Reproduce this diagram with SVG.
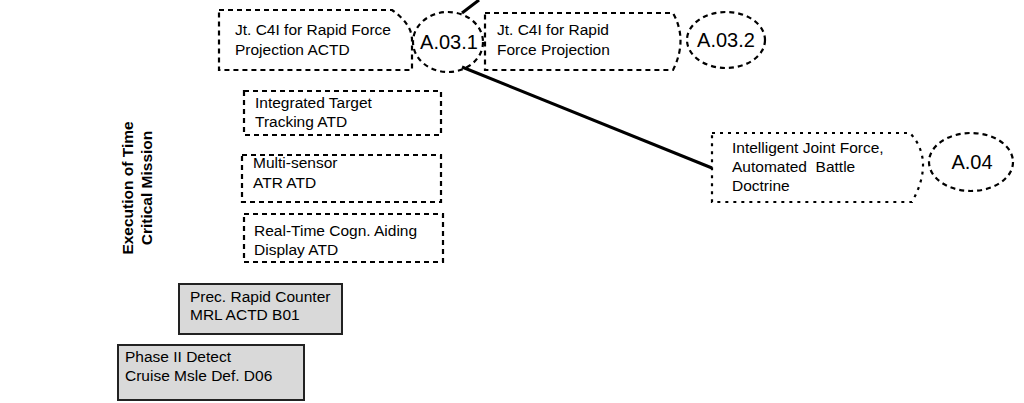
<svg xmlns="http://www.w3.org/2000/svg" width="1024" height="403" viewBox="0 0 1024 403">
<style>
  text { font-family: "Liberation Sans", Arial, sans-serif; fill: #000; }
  .t { font-size: 15.5px; }
  .lbl { font-size: 20px; text-anchor: middle; }
  .side { font-size: 15.5px; font-weight: bold; text-anchor: middle; }
  .dash { fill: none; stroke: #000; stroke-width: 2.2; stroke-dasharray: 5 4; }
  .dot { fill: none; stroke: #000; stroke-width: 2.2; stroke-dasharray: 3 5; }
  .solid { fill: #d9d9d9; stroke: #222; stroke-width: 2; }
  .conn { stroke: #000; stroke-width: 3; fill: none; }
</style>
<rect width="1024" height="403" fill="#fff"/>

<g id="side-label">
  <text class="side" transform="translate(133,188) rotate(-90)">Execution of Time</text>
  <text class="side" transform="translate(152,188) rotate(-90)">Critical Mission</text>
</g>

<g id="connectors">
  <line class="conn" x1="462" y1="13" x2="479" y2="0"/>
  <line class="conn" x1="462" y1="67" x2="712" y2="168"/>
</g>

<g id="node-jtc4i-actd">
  <path class="dash" d="M219,10 H392 Q412,24 412,40 V70 H219 Z"/>
  <text class="t" x="235" y="35">Jt. C4I for Rapid Force</text>
  <text class="t" x="235" y="55">Projection ACTD</text>
</g>

<g id="node-a031">
  <ellipse class="dash" cx="448" cy="42" rx="35" ry="30"/>
  <text class="lbl" x="449" y="49">A.03.1</text>
</g>

<g id="node-jtc4i">
  <path class="dash" d="M485,13 H673 Q688,40 673,70 H485 Z"/>
  <text class="t" x="497" y="35">Jt. C4I for Rapid</text>
  <text class="t" x="497" y="55">Force Projection</text>
</g>

<g id="node-a032">
  <ellipse class="dash" cx="726" cy="40" rx="39" ry="28"/>
  <text class="lbl" x="726" y="47">A.03.2</text>
</g>

<g id="node-itt">
  <rect class="dash" x="244" y="91" width="197" height="44"/>
  <text class="t" x="255" y="108">Integrated Target</text>
  <text class="t" x="255" y="127">Tracking ATD</text>
</g>

<g id="node-msatr">
  <rect class="dash" x="242" y="155" width="199" height="47"/>
  <text class="t" x="253" y="168">Multi-sensor</text>
  <text class="t" x="253" y="188">ATR ATD</text>
</g>

<g id="node-rtcad">
  <rect class="dash" x="244" y="214" width="199" height="48"/>
  <text class="t" x="254" y="236">Real-Time Cogn. Aiding</text>
  <text class="t" x="254" y="255">Display ATD</text>
</g>

<g id="node-ijf">
  <path class="dot" d="M712,133 H910 Q935,160 912,202 H712 Z"/>
  <text class="t" x="732" y="153">Intelligent Joint Force,</text>
  <text class="t" x="732" y="172" xml:space="preserve">Automated  Battle</text>
  <text class="t" x="732" y="191">Doctrine</text>
</g>

<g id="node-a04">
  <ellipse class="dash" cx="971" cy="162" rx="42" ry="29"/>
  <text class="lbl" x="972" y="169">A.04</text>
</g>

<g id="node-prec">
  <rect class="solid" x="179" y="284" width="163" height="50"/>
  <text class="t" x="190" y="302">Prec. Rapid Counter</text>
  <text class="t" x="190" y="320">MRL ACTD B01</text>
</g>

<g id="node-phase2">
  <rect class="solid" x="118" y="345" width="186" height="55"/>
  <text class="t" x="125" y="362">Phase II Detect</text>
  <text class="t" x="125" y="381">Cruise Msle Def. D06</text>
</g>
</svg>
